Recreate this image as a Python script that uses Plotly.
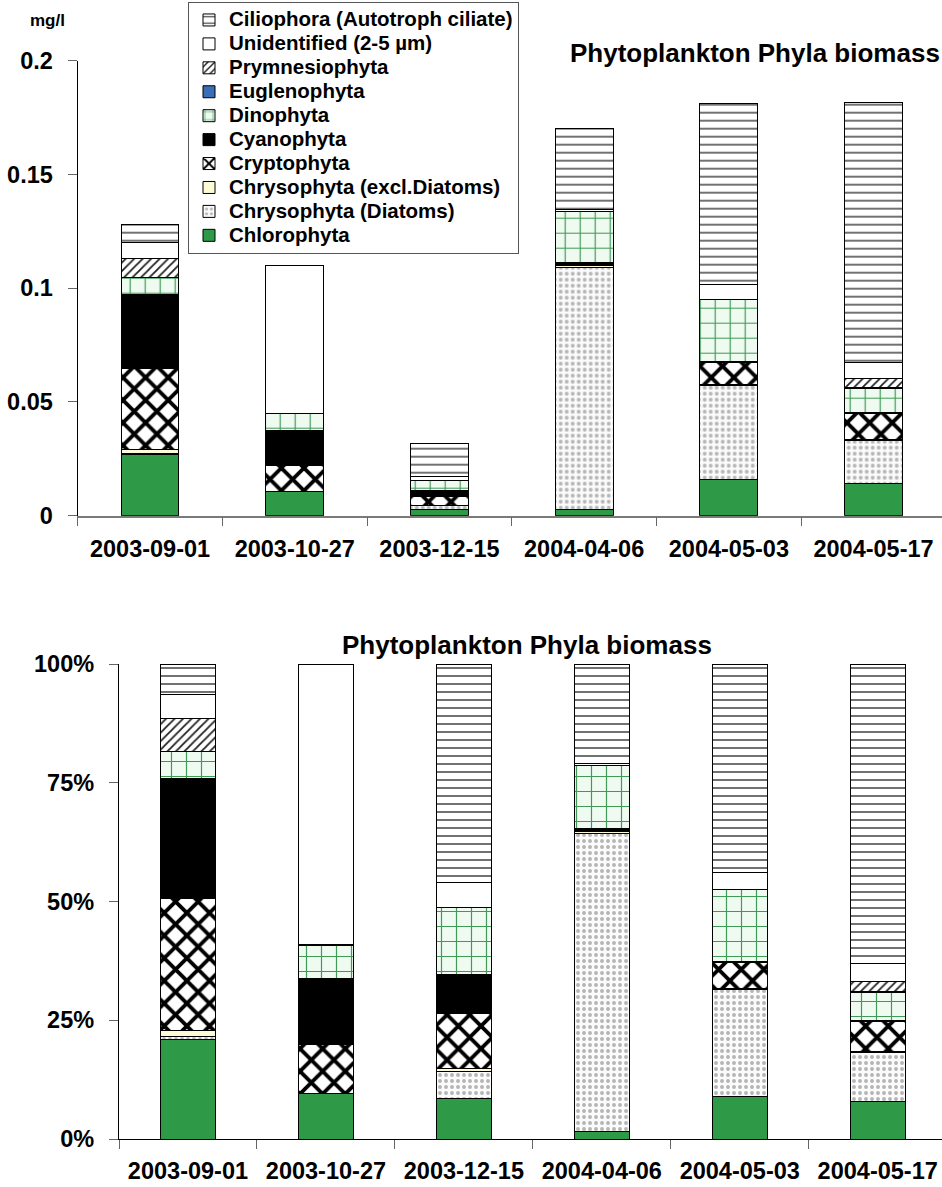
import plotly.graph_objects as go

dates = ["2003-09-01", "2003-10-27", "2003-12-15", "2004-04-06", "2004-05-03", "2004-05-17"]

# biomass, mg/l
chlorophyta    = [0.0268, 0.0106, 0.0027, 0.0028, 0.0161, 0.0142]
diatoms        = [0.0007, 0.0,    0.0018, 0.1065, 0.0411, 0.0189]
chryso_excl    = [0.0017, 0.0,    0.0002, 0.0008, 0.0004, 0.0005]
cryptophyta    = [0.0356, 0.0114, 0.0037, 0.0003, 0.0098, 0.0113]
cyanophyta     = [0.0323, 0.0153, 0.0026, 0.0008, 0.0004, 0.0005]
dinophyta      = [0.0074, 0.0075, 0.0045, 0.0227, 0.0273, 0.0107]
euglenophyta   = [0.0,    0.0,    0.0,    0.0,    0.0,    0.0004]
prymnesiophyta = [0.0087, 0.0003, 0.0,    0.0,    0.0,    0.0036]
unidentified   = [0.0067, 0.0650, 0.0017, 0.0007, 0.0066, 0.0071]
ciliophora     = [0.0081, 0.0,    0.0146, 0.0355, 0.0795, 0.1143]

y_ticks = [0, 0.05, 0.1, 0.15, 0.2]
y_ticktext = ["0", "0.05", "0.1", "0.15", "0.2"]
p_ticks = [0, 25, 50, 75, 100]
p_ticktext = ["0%", "25%", "50%", "75%", "100%"]

series = [
    ("Chlorophyta", chlorophyta, dict(color="#2e9a47")),
    ("Chrysophyta (Diatoms)", diatoms, dict(color="#fbfbfb", pattern=dict(shape=".", fgcolor="#b5b5b5", bgcolor="#fbfbfb", size=6, solidity=0.33, fgopacity=1))),
    ("Chrysophyta (excl.Diatoms)", chryso_excl, dict(color="#fdfbd6")),
    ("Cryptophyta", cryptophyta, dict(color="white", pattern=dict(shape="x", fgcolor="black", bgcolor="white", size=16, solidity=0.42, fgopacity=1))),
    ("Cyanophyta", cyanophyta, dict(color="black")),
    ("Dinophyta", dinophyta, dict(color="#effaf1", pattern=dict(shape="+", fgcolor="#3f9a55", bgcolor="#effaf1", size=15, solidity=0.15, fgopacity=1))),
    ("Euglenophyta", euglenophyta, dict(color="#3a6fb7")),
    ("Prymnesiophyta", prymnesiophyta, dict(color="white", pattern=dict(shape="/", fgcolor="#222222", bgcolor="white", size=6, solidity=0.3, fgopacity=1))),
    ("Unidentified (2-5 µm)", unidentified, dict(color="white")),
    ("Ciliophora (Autotroph ciliate)", ciliophora, dict(color="white", pattern=dict(shape="-", fgcolor="#3a3a3a", bgcolor="white", size=8, solidity=0.18, fgopacity=1))),
]

totals = [sum(s[1][i] for s in series) for i in range(len(dates))]

FONT = "Liberation Sans"
fig = go.Figure()
for name, vals, mk in series:
    v_abs = [v if v > 0 else None for v in vals]
    v_pct = [100 * v / t if v > 0 else None for v, t in zip(vals, totals)]
    marker = dict(mk)
    marker["line"] = dict(color="black", width=1)
    label = '<span style="font-size:20.5px">' + name + "</span>"
    fig.add_trace(go.Bar(x=dates, y=v_abs, name=label, legendgroup=name, marker=marker,
                         xaxis="x", yaxis="y", showlegend=True))
    fig.add_trace(go.Bar(x=dates, y=v_pct, name=label, legendgroup=name, marker=marker,
                         xaxis="x2", yaxis="y2", showlegend=False))

W, H = 942, 1187
tickfont = dict(family=FONT, size=23.5, color="black", weight="bold")
common_x = dict(type="category", tickson="boundaries", ticks="outside", ticklen=9, tickcolor="#666",
                showgrid=False, tickfont=tickfont, ticklabelstandoff=11, automargin=False)
common_y = dict(ticks="outside", ticklen=9, tickcolor="#666", showline=True, linecolor="black",
                linewidth=1.3, showgrid=False, zeroline=False, tickfont=tickfont,
                ticklabelstandoff=10, automargin=False)

fig.update_layout(
    template="none",
    width=W, height=H, margin=dict(l=0, r=0, t=0, b=0, pad=0), autosize=False,
    paper_bgcolor="white", plot_bgcolor="white",
    barmode="stack", bargap=0.6,
    font=dict(family=FONT, color="black"),
    xaxis=dict(domain=[77.7 / W, 1], anchor="y", range=[-0.5, 5.473],
               showline=True, linecolor="#7a7a7a", linewidth=1.5, **common_x),
    yaxis=dict(domain=[1 - 515.7 / H, 1 - 60.7 / H], anchor="x", range=[0, 0.2],
               tickvals=y_ticks, ticktext=y_ticktext, **common_y),
    xaxis2=dict(domain=[119 / W, 1], anchor="y2", range=[-0.5, 5.466],
                showline=True, linecolor="black", linewidth=1.3, **common_x),
    yaxis2=dict(domain=[1 - 1139 / H, 1 - 664 / H], anchor="x2", range=[0, 100],
                tickvals=p_ticks, ticktext=p_ticktext, **common_y),
    legend=dict(x=188 / W, y=1 - 2 / H, xanchor="left", yanchor="top",
                bordercolor="#555", borderwidth=1, bgcolor="white", tracegroupgap=0,
                traceorder="reversed", font=dict(family=FONT, size=16.1, color="black", weight="bold"),
                itemclick=False, itemdoubleclick=False),
    annotations=[
        dict(text="mg/l", x=47 / W, y=1 - 20 / H, xref="paper", yref="paper", showarrow=False,
             xanchor="center", yanchor="middle", font=dict(family=FONT, size=17, weight="bold")),
        dict(text="Phytoplankton Phyla biomass", x=1, y=1 - 53 / H, xref="paper", yref="paper",
             showarrow=False, xanchor="right", yanchor="middle",
             font=dict(family=FONT, size=26, weight="bold")),
        dict(text="Phytoplankton Phyla biomass", x=527 / W, y=1 - 645 / H, xref="paper", yref="paper",
             showarrow=False, xanchor="center", yanchor="middle",
             font=dict(family=FONT, size=26, weight="bold")),
    ],
)

fig.write_html("out.html", config={"displayModeBar": False},
               post_script="document.body.style.margin='0';document.body.style.overflow='hidden';")
